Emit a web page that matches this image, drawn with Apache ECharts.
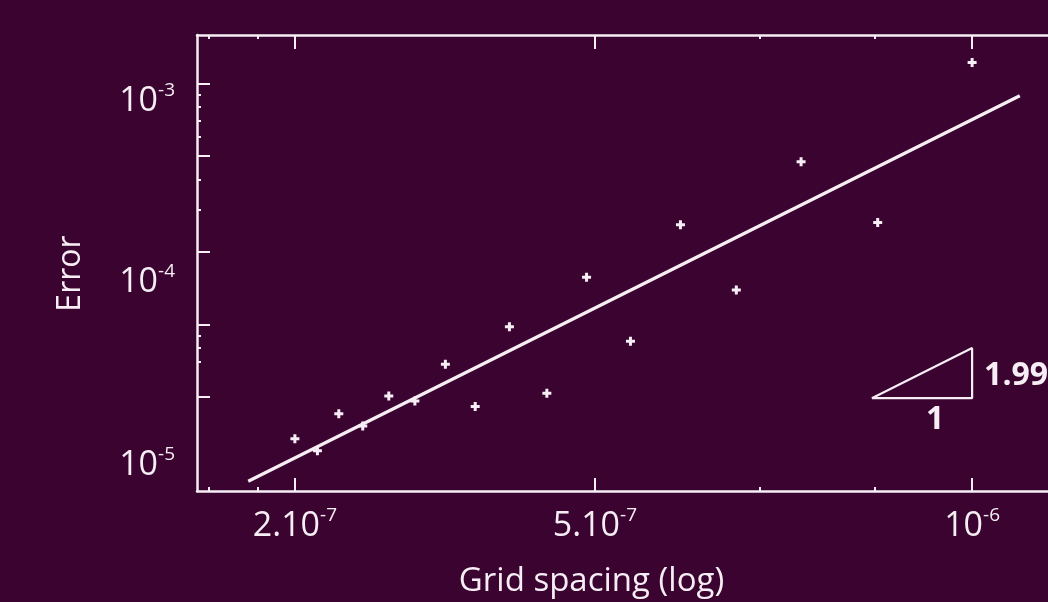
<!DOCTYPE html>
<html><head><meta charset="utf-8">
<script src="https://cdn.jsdelivr.net/npm/echarts@6/dist/echarts.min.js"></script>
<style>html,body{margin:0;padding:0;background:#3a0330;overflow:hidden;width:1048px;height:602px;}#c{width:1080px;height:602px;}</style>
</head><body><div id="c"></div>
<script>
// Data
const spacing = [2.00e-7, 2.11e-7, 2.22e-7, 2.35e-7, 2.50e-7, 2.66e-7, 2.86e-7, 3.07e-7, 3.33e-7, 3.64e-7, 4.00e-7, 4.44e-7, 5.00e-7, 5.71e-7, 6.66e-7, 7.99e-7, 1.00e-6];
const errors  = [3.36e-5, 3.00e-5, 4.27e-5, 3.80e-5, 5.06e-5, 4.82e-5, 6.84e-5, 4.57e-5, 9.80e-5, 5.19e-5, 1.57e-4, 8.52e-5, 2.59e-4, 1.39e-4, 4.73e-4, 2.65e-4, 1.22e-3];
// Fitted line end points
const fitX = [1.79e-7, 1.12e-6];
const fitY = [2.24e-5, 8.88e-4];
// Slope triangle
const triX = [7.88e-7, 1.00e-6];
const triY = [4.95e-5, 8.00e-5];
const slopeText = '1.99';
const slopeLabelAt = [1.00e-6, 6.12e-5];
const runText = '1';
const runLabelAt = [9.16e-7, 4.02e-5];
// Axis ticks and labels
const xMajorTicks = [2.0e-7, 4.08e-7, 1.0e-6];
const xMinorTicks = [1.63e-7, 1.83e-7, 6.03e-7, 7.94e-7];
const xLabelAt = [2.0e-7, 4.08e-7, 1.0e-6];
const xLabelBase = ['2.10', '5.10', '10'];
const xLabelExp = ['-7', '-7', '-6'];
const yMajorTicks = [1e-3, 5e-4, 2e-4, 1e-4, 5e-5];
const yMinorTicks = [9e-4, 8e-4, 7e-4, 6e-4, 4e-4, 3e-4, 9e-5, 8e-5, 7e-5];
const yLabelAt = [8.44e-4, 1.50e-4, 2.62e-5];
const yLabelBase = ['10', '10', '10'];
const yLabelExp = ['-3', '-4', '-5'];
const xName = 'Grid spacing (log)';
const yName = 'Error';

const L = Math.log10;
const FG = '#f6eef4';
const FONT = 'Open Sans';
const lineStyle = {color: FG, width: 2.5};
const tickStyle = {color: FG, width: 2};

function labelFmt(at, base, exp) {
  return function (v) {
    for (let i = 0; i < at.length; i++) {
      if (Math.abs(L(at[i]) - v) < 1e-6) return '{b|' + base[i] + '}{s|' + exp[i] + '}';
    }
    return '';
  };
}
const rich = {
  b: {fontSize: 34, fontFamily: FONT, color: FG, lineHeight: 40},
  s: {fontSize: 19, fontFamily: FONT, color: FG, lineHeight: 20, verticalAlign: 'top'}
};

const XMIN = -6.8, XMAX = -5.9, YMIN = -4.69, YMAX = -2.8;
function xAx(pos, ticks, len, showLine, labels) {
  return {
    type: 'value', min: XMIN, max: XMAX, position: pos,
    axisLine: {show: showLine, onZero: false, lineStyle: lineStyle},
    axisTick: {show: true, inside: true, length: len, customValues: ticks.map(L), lineStyle: tickStyle},
    axisLabel: labels ? {show: true, customValues: xLabelAt.map(L), formatter: labelFmt(xLabelAt, xLabelBase, xLabelExp), margin: 15, rich: rich} : {show: false},
    splitLine: {show: false}
  };
}
function yAx(ticks, len, showLine, labels) {
  return {
    type: 'value', min: YMIN, max: YMAX, position: 'left',
    axisLine: {show: showLine, onZero: false, lineStyle: lineStyle},
    axisTick: {show: true, inside: true, length: len, customValues: ticks.map(L), lineStyle: tickStyle},
    axisLabel: labels ? {show: true, customValues: yLabelAt.map(L), formatter: labelFmt(yLabelAt, yLabelBase, yLabelExp), margin: 22, rich: rich} : {show: false},
    splitLine: {show: false}
  };
}

const xAxes = [
  xAx('bottom', xMajorTicks, 13, true, true),
  xAx('bottom', xMinorTicks, 4, false, false),
  xAx('top', xMajorTicks, 14, true, false),
  xAx('top', xMinorTicks, 4, false, false)
];
Object.assign(xAxes[0], {name: xName, nameLocation: 'middle', nameGap: 74,
  nameTextStyle: {fontSize: 33, fontFamily: FONT, color: FG, padding: [0, 83, 0, 0]}});
const yAxes = [
  yAx(yMajorTicks, 13, true, true),
  yAx(yMinorTicks, 4, false, false)
];
Object.assign(yAxes[0], {name: yName, nameLocation: 'middle', nameGap: 110, nameRotate: 90,
  nameTextStyle: {fontSize: 32, fontFamily: FONT, color: FG, padding: [0, 21, 0, 0]}});

const plus = 'path://M3,0H6V3H9V6H6V9H3V6H0V3H3Z';

const chart = echarts.init(document.getElementById('c'), null, {renderer: 'canvas', width: 1080, height: 602});
chart.setOption({
  backgroundColor: '#3a0330',
  animation: false,
  grid: {left: 197, width: 872, top: 35, bottom: 111, containLabel: false, outerBoundsMode: 'none'},
  xAxis: xAxes,
  yAxis: yAxes,
  series: [
    {
      type: 'line', name: 'fit', xAxisIndex: 0, yAxisIndex: 0,
      data: fitX.map((x, i) => [L(x), L(fitY[i])]),
      showSymbol: false, symbol: 'none',
      lineStyle: {color: FG, width: 3.2, opacity: 1}, z: 3
    },
    {
      type: 'scatter', name: 'error', xAxisIndex: 0, yAxisIndex: 0,
      data: spacing.map((x, i) => [L(x), L(errors[i])]),
      symbol: plus, symbolSize: 9,
      itemStyle: {color: FG, opacity: 1}, z: 4
    },
    {
      type: 'line', name: 'triangle', xAxisIndex: 0, yAxisIndex: 0,
      data: [[L(triX[0]), L(triY[0])], [L(triX[1]), L(triY[0])], [L(triX[1]), L(triY[1])], [L(triX[0]), L(triY[0])]],
      showSymbol: false, symbol: 'none',
      lineStyle: {color: FG, width: 2.2, opacity: 1}
    },
    {
      type: 'scatter', name: 'annot', xAxisIndex: 0, yAxisIndex: 0,
      symbolSize: 0,
      itemStyle: {opacity: 1},
      data: [
        {value: [L(slopeLabelAt[0]), L(slopeLabelAt[1])], label: {show: true, position: 'right', distance: 12, formatter: slopeText}},
        {value: [L(runLabelAt[0]), L(runLabelAt[1])], label: {show: true, position: 'inside', formatter: runText}}
      ],
      label: {fontSize: 32, fontWeight: 'bold', fontFamily: FONT, color: FG, opacity: 1}
    }
  ]
});
</script>
</body></html>
